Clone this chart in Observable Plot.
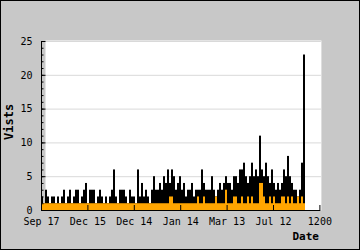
<!DOCTYPE html>
<html><head><meta charset="utf-8">
<script src="https://cdn.jsdelivr.net/npm/d3@7"></script>
<script src="https://cdn.jsdelivr.net/npm/@observablehq/plot@0.6"></script>
<style>
body{margin:0;background:#c8c8c8}
#chart svg{display:block;outline:1px solid #000;outline-offset:-1px}
</style></head><body><div id="chart"></div>
<script>
const visits = [2,1,3,2,1,2,2,1,2,1, 2,3,1,2,3,1,2,3,3,1, 2,3,4,1,3,3,3,1,2,3,
  2,1,2,1,2,3,6,2,1,3, 3,3,2,1,3,2,2,1,6,2, 4,2,3,2,1,3,5,3,3,4, 3,5,4,6,4,6,5,3,4,5,
  3,4,2,3,3,4,2,3,3,3, 6,4,3,3,3,5,3,2,3,4, 3,4,5,4,4,3,5,5,4,6, 6,7,5,4,5,7,5,6,5,11,
  6,5,7,5,4,6,4,3,4,3, 4,6,5,8,5,4,3,3,2,3, 7,23];
const unique = [1,1,1,1,1,1,1,1,1,1, 1,1,1,1,1,1,1,1,1,1, 1,1,1,1,1,1,1,1,1,1,
  1,1,1,1,1,1,1,1,1,1, 1,1,1,1,1,1,1,1,1,1, 1,1,1,1,1,1,1,1,1,1, 1,1,1,1,2,2,1,1,1,1,
  1,1,1,1,1,1,1,1,2,1, 1,2,1,1,1,1,1,2,1,1, 1,1,3,1,1,1,2,2,1,1, 2,1,1,2,1,2,1,1,1,4,
  4,2,1,1,2,1,2,1,1,1, 2,2,1,2,1,2,1,1,2,1, 2,1];
const tickPositions = [0,1,2,3,4,5,6];
const tickLabels = ["Sep 17","Dec 15","Dec 14","Jan 14","Mar 13","Jul 12","1200"];
const yTicks = [0,5,10,15,20,25];
const yMinor = [0,1,2,3,4,5,6,7,8,9,10,11,12,13,14,15,16,17,18,19,20,21,22,23,24,25];
const barStep = 2 / 46.4;
const rows = visits.map((v, i) => ({x1: i * barStep, x2: (i + 1) * barStep, visits: v, unique: unique[i]}));
const font = "'DejaVu Sans Mono', monospace";
const chart = Plot.plot({
  width: 360, height: 250,
  marginLeft: 41, marginRight: 40.6, marginTop: 41, marginBottom: 40,
  style: {background: "#c8c8c8", fontFamily: font, fontSize: "10px", color: "#000"},
  x: {domain: [0, 6]},
  y: {domain: [0, 25]},
  marks: [
    Plot.frame({fill: "#fff", stroke: null, insetLeft: 4, insetTop: -1, insetRight: -1.5}),
    Plot.gridY(yTicks.slice(1), {stroke: "#d9d9d9", strokeOpacity: 1, insetLeft: 4, insetRight: -1.5}),
    Plot.rectY(rows, {x1: "x1", x2: "x2", y: "visits", fill: "#000"}),
    Plot.rectY(rows, {x1: "x1", x2: "x2", y: "unique", fill: "#ffa500"}),
    Plot.ruleX([0], {stroke: "#000"}),
    Plot.ruleY([0], {stroke: "#000", insetRight: -1}),
    Plot.axisY(yMinor, {tickSize: -2.5, tickFormat: () => "", label: null}),
    Plot.axisY(yTicks, {tickSize: -4.5, tickFormat: () => "", label: null}),
    Plot.axisY(yTicks, {tickSize: 0, tickPadding: 9, label: null}),
    Plot.axisX(tickPositions, {tickSize: -5, tickFormat: () => "", label: null}),
    Plot.axisX(tickPositions, {tickSize: 0, tickPadding: 7, tickFormat: d => tickLabels[d], label: null}),
    Plot.text(["Vists"], {frameAnchor: "left", rotate: -90, dx: -32, dy: 14, fontWeight: "bold", fontSize: 12}),
    Plot.text(["Date"], {frameAnchor: "bottom-right", textAnchor: "end", lineAnchor: "bottom", dy: 29, dx: -1, fontWeight: "bold", fontSize: 11})
  ]
});
document.getElementById("chart").append(chart);
</script></body></html>
